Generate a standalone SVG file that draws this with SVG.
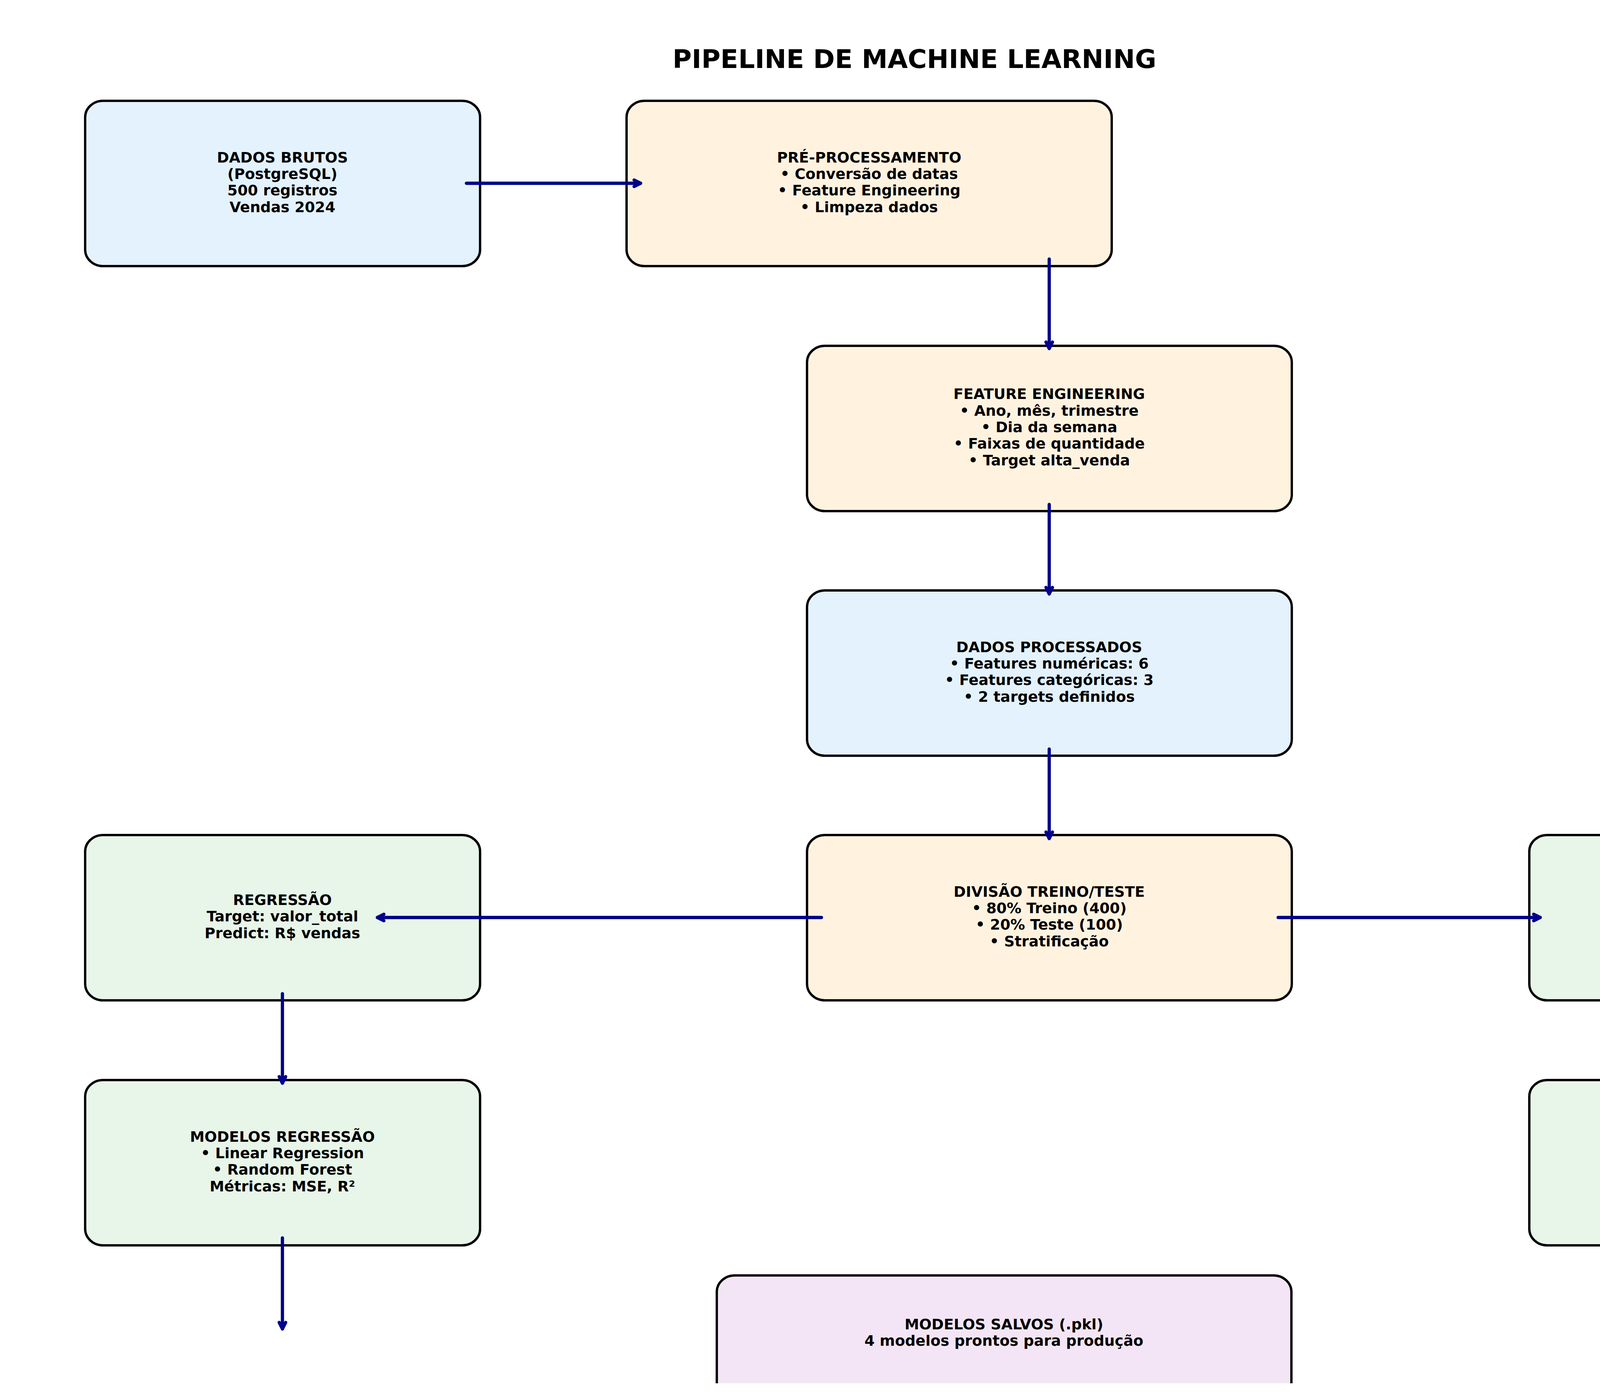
<svg xmlns="http://www.w3.org/2000/svg" width="4726" height="3570" viewBox="0 0 4726 3570">
  <defs>
    <style>
      .box { stroke: #000000; stroke-width: 6; }
      .dados { fill: #E3F2FD; }
      .proc { fill: #FFF3E0; }
      .model { fill: #E8F5E9; }
      .out { fill: #F3E5F5; }
      .lbl { font-family: "DejaVu Sans", "Liberation Sans", sans-serif; font-weight: bold; font-size: 37.5px; fill: #000000; text-anchor: middle; }
      .title { font-family: "DejaVu Sans", "Liberation Sans", sans-serif; font-weight: bold; font-size: 66.7px; fill: #000000; text-anchor: middle; }
      .leg { font-family: "DejaVu Sans", "Liberation Sans", sans-serif; font-size: 41.7px; fill: #000000; }
      .arrow { fill: none; stroke: #00008B; stroke-width: 8.3; stroke-linecap: round; marker-end: url(#head); }
    </style>
    <marker id="head" markerUnits="userSpaceOnUse" viewBox="-26 -15 32 30" markerWidth="32" markerHeight="30" refX="0" refY="0" orient="auto" overflow="visible">
      <path d="M-16.7,-8.3 L0,0 L-16.7,8.3" fill="none" stroke="#00008B" stroke-width="8.3" stroke-linecap="round" stroke-linejoin="round"/>
    </marker>
    <clipPath id="axes">
      <rect x="0" y="0" width="4651" height="3540"/>
    </clipPath>
  </defs>

  <rect x="0" y="0" width="4726" height="3570" fill="#FFFFFF"/>

  <text class="title" x="2341" y="174">PIPELINE DE MACHINE LEARNING</text>

  <g id="nodes" clip-path="url(#axes)">
    <g id="dados-brutos">
      <rect class="box dados" x="218" y="258" width="1011" height="423" rx="46" ry="42"/>
    </g>
    <g id="pre-processamento">
      <rect class="box proc" x="1604" y="258" width="1242" height="423" rx="46" ry="42"/>
    </g>
    <g id="feature-engineering">
      <rect class="box proc" x="2066" y="885" width="1241" height="423" rx="46" ry="42"/>
    </g>
    <g id="dados-processados">
      <rect class="box dados" x="2066" y="1511" width="1241" height="423" rx="46" ry="42"/>
    </g>
    <g id="divisao">
      <rect class="box proc" x="2066" y="2137" width="1241" height="423" rx="46" ry="42"/>
    </g>
    <g id="regressao">
      <rect class="box model" x="218" y="2137" width="1011" height="423" rx="46" ry="42"/>
    </g>
    <g id="classificacao">
      <rect class="box model" x="3915" y="2137" width="1011" height="423" rx="46" ry="42"/>
    </g>
    <g id="modelos-regressao">
      <rect class="box model" x="218" y="2764" width="1011" height="423" rx="46" ry="42"/>
    </g>
    <g id="modelos-classificacao">
      <rect class="box model" x="3915" y="2764" width="1011" height="423" rx="46" ry="42"/>
    </g>
    <g id="modelos-salvos">
      <rect class="box out" x="1835" y="3264" width="1471" height="423" rx="46" ry="42"/>
    </g>
  </g>

  <g id="labels">
    <text class="lbl"><tspan x="723" y="415.5">DADOS BRUTOS</tspan><tspan x="723" y="457.8">(PostgreSQL)</tspan><tspan x="723" y="500.2">500 registros</tspan><tspan x="723" y="542.5">Vendas 2024</tspan></text>
    <text class="lbl"><tspan x="2225" y="415.5">PRÉ-PROCESSAMENTO</tspan><tspan x="2225" y="457.8">• Conversão de datas</tspan><tspan x="2225" y="500.2">• Feature Engineering</tspan><tspan x="2225" y="542.5">• Limpeza dados</tspan></text>
    <text class="lbl"><tspan x="2686" y="1021.4">FEATURE ENGINEERING</tspan><tspan x="2686" y="1063.7">• Ano, mês, trimestre</tspan><tspan x="2686" y="1106">• Dia da semana</tspan><tspan x="2686" y="1148.3">• Faixas de quantidade</tspan><tspan x="2686" y="1190.6">• Target alta_venda</tspan></text>
    <text class="lbl"><tspan x="2686" y="1668.5">DADOS PROCESSADOS</tspan><tspan x="2686" y="1710.8">• Features numéricas: 6</tspan><tspan x="2686" y="1753.2">• Features categóricas: 3</tspan><tspan x="2686" y="1795.5">• 2 targets definidos</tspan></text>
    <text class="lbl"><tspan x="2686" y="2294.5">DIVISÃO TREINO/TESTE</tspan><tspan x="2686" y="2336.8">• 80% Treino (400)</tspan><tspan x="2686" y="2379.2">• 20% Teste (100)</tspan><tspan x="2686" y="2421.5">• Stratificação</tspan></text>
    <text class="lbl"><tspan x="723" y="2316">REGRESSÃO</tspan><tspan x="723" y="2358.3">Target: valor_total</tspan><tspan x="723" y="2400.6">Predict: R$ vendas</tspan></text>
    <text class="lbl"><tspan x="4420" y="2316">CLASSIFICAÇÃO</tspan><tspan x="4420" y="2358.3">Target: alta_venda</tspan><tspan x="4420" y="2400.6">Predict: 0 ou 1</tspan></text>
    <text class="lbl"><tspan x="723" y="2921.5">MODELOS REGRESSÃO</tspan><tspan x="723" y="2963.8">• Linear Regression</tspan><tspan x="723" y="3006.2">• Random Forest</tspan><tspan x="723" y="3048.5">Métricas: MSE, R²</tspan></text>
    <text class="lbl"><tspan x="4420" y="2921.5">MODELOS CLASSIFICAÇÃO</tspan><tspan x="4420" y="2963.8">• Logistic Regression</tspan><tspan x="4420" y="3006.2">• Random Forest</tspan><tspan x="4420" y="3048.5">Métricas: Acc, F1</tspan></text>
    <text class="lbl"><tspan x="2570" y="3402">MODELOS SALVOS (.pkl)</tspan><tspan x="2570" y="3444">4 modelos prontos para produção</tspan></text>
  </g>

  <g id="connectors">
    <path class="arrow" d="M1194,469 L1640,469"/>
    <path class="arrow" d="M2686,663 L2686,892"/>
    <path class="arrow" d="M2686,1291 L2686,1520"/>
    <path class="arrow" d="M2686,1917 L2686,2146"/>
    <path class="arrow" d="M2103,2348 L966,2348"/>
    <path class="arrow" d="M3272,2348 L3943,2348"/>
    <path class="arrow" d="M723,2543 L723,2772"/>
    <path class="arrow" d="M723,3168 L723,3401"/>
    <path class="arrow" d="M4420,2543 L4420,2772"/>
    <path class="arrow" d="M4420,3168 L4420,3401"/>
  </g>

  <g id="legend">
    <rect x="4165" y="52" width="463" height="262" rx="8" ry="8" fill="#FFFFFF" fill-opacity="0.8" stroke="#CCCCCC" stroke-width="4"/>
    <rect class="dados" x="4177" y="69" width="88" height="33"/>
    <text class="leg" x="4298" y="101">Dados</text>
    <rect class="proc" x="4177" y="132" width="88" height="33"/>
    <text class="leg" x="4298" y="164">Processamento</text>
    <rect class="model" x="4177" y="195" width="88" height="33"/>
    <text class="leg" x="4298" y="227">Modelagem</text>
    <rect class="out" x="4177" y="258" width="88" height="33"/>
    <text class="leg" x="4298" y="290">Output</text>
  </g>
</svg>
